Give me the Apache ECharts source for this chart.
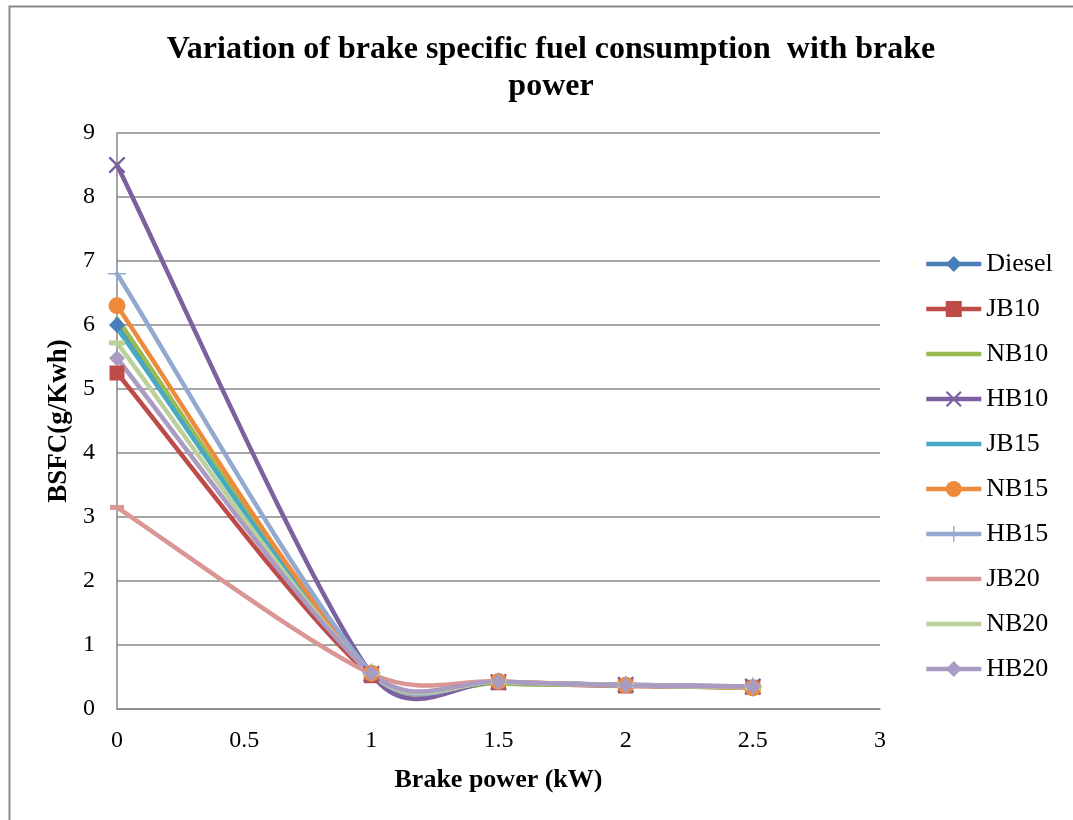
<!DOCTYPE html>
<html>
<head>
<meta charset="utf-8">
<script src="https://cdn.jsdelivr.net/npm/echarts@6/dist/echarts.min.js"></script>
<style>
  html, body { margin: 0; padding: 0; background: #fff; }
  #chart { width: 1073px; height: 820px; }
</style>
</head>
<body>
<div id="chart"></div>
<script>
// ---- Data ----
const brakePower = [0, 1, 1.5, 2, 2.5];
const xTickLabels = ['0', '0.5', '1', '1.5', '2', '2.5', '3'];
const yTickLabels = ['0', '1', '2', '3', '4', '5', '6', '7', '8', '9'];
const seriesNames = ['Diesel', 'JB10', 'NB10', 'HB10', 'JB15', 'NB15', 'HB15', 'JB20', 'NB20', 'HB20'];

const diesel = [6.0, 0.55, 0.42, 0.37, 0.34];
const jb10   = [5.25, 0.52, 0.41, 0.36, 0.34];
const nb10   = [6.1, 0.54, 0.40, 0.37, 0.33];
const hb10   = [8.5, 0.55, 0.42, 0.38, 0.35];
const jb15   = [5.95, 0.55, 0.42, 0.37, 0.34];
const nb15   = [6.3, 0.56, 0.43, 0.37, 0.33];
const hb15   = [6.8, 0.57, 0.43, 0.38, 0.35];
const jb20   = [3.15, 0.55, 0.43, 0.37, 0.35];
const nb20   = [5.72, 0.55, 0.42, 0.37, 0.34];
const hb20   = [5.48, 0.56, 0.43, 0.37, 0.35];
const seriesValues = [diesel, jb10, nb10, hb10, jb15, nb15, hb15, jb20, nb20, hb20];

// ---- Styles ----
const FONT = "'Liberation Serif', 'Times New Roman', serif";
const colors = ['#4A7EBB', '#BE4B48', '#98B954', '#7D60A0', '#46AAC5', '#EE8A3C', '#93A9CF', '#D99694', '#BBD09A', '#A99BC2'];
const X_PATH = 'path://M1,0 L5,4 L9,0 L10,1 L6,5 L10,9 L9,10 L5,6 L1,10 L0,9 L4,5 L0,1 Z';
const PLUS_PATH = 'path://M4.55,0 H5.45 V4.55 H10 V5.45 H5.45 V10 H4.55 V5.45 H0 V4.55 H4.55 Z';
const LINE_ICON = 'path://M0,0 H110 V9 H0 Z';
const symbols = [
  ['diamond', 16], ['rect', 15], ['none', 0], [X_PATH, 17], ['none', 0],
  ['circle', 17], [PLUS_PATH, 18], ['rect', [14, 5]], ['rect', [16, 5]], ['diamond', 16]
];
const plainLegend = [false, false, true, false, true, false, false, true, true, false];
const LW = 4.5;

function dist(a, b) { return Math.hypot(a[0] - b[0], a[1] - b[1]); }

function curveSeries(name, vals, color) {
  return {
    type: 'custom',
    name: name,
    z: 2,
    silent: true,
    clip: false,
    encode: { x: 0, y: 1 },
    data: brakePower.map((x, i) => [x, vals[i]]),
    renderItem: function (params, api) {
      const i = params.dataIndex;
      const n = brakePower.length;
      if (i >= n - 1) return null;
      const P = brakePower.map((x, j) => api.coord([x, vals[j]]));
      const k = 1 / 6;
      const p0 = P[Math.max(i - 1, 0)], p1 = P[i], p2 = P[i + 1], p3 = P[Math.min(i + 2, n - 1)];
      const d01 = dist(p0, p1), d12 = dist(p1, p2), d23 = dist(p2, p3);
      const s1 = d01 > 0 ? Math.min(1, Math.sqrt(2 * d12 / (d01 + d12))) : 1;
      const s2 = d23 > 0 ? Math.min(1, Math.sqrt(2 * d12 / (d12 + d23))) : 1;
      const cp1 = [p1[0] + (p2[0] - p0[0]) * k * s1, p1[1] + (p2[1] - p0[1]) * k * s1];
      const cp2 = [p2[0] - (p3[0] - p1[0]) * k * s2, p2[1] - (p3[1] - p1[1]) * k * s2];
      return {
        type: 'bezierCurve',
        shape: { x1: p1[0], y1: p1[1], x2: p2[0], y2: p2[1], cpx1: cp1[0], cpy1: cp1[1], cpx2: cp2[0], cpy2: cp2[1] },
        style: { fill: 'none', stroke: color, lineWidth: LW, lineCap: 'round' }
      };
    }
  };
}

const markerSeries = seriesNames.map((name, s) => ({
  type: 'line',
  name: name,
  z: 3,
  data: brakePower.map((x, i) => [x, seriesValues[s][i]]),
  symbol: symbols[s][0],
  symbolSize: symbols[s][1],
  showSymbol: symbols[s][0] !== 'none',
  color: colors[s],
  itemStyle: { color: colors[s] },
  lineStyle: { color: colors[s], width: LW, opacity: 0 },
  emphasis: { disabled: true }
}));

const curves = seriesNames.map((name, s) => curveSeries(name, seriesValues[s], colors[s]));

const legendData = seriesNames.map((name, s) => plainLegend[s] ? { name: name, icon: LINE_ICON } : { name: name });

const chart = echarts.init(document.getElementById('chart'), null, { renderer: 'canvas' });
chart.setOption({
  animation: false,
  backgroundColor: '#ffffff',
  textStyle: { fontFamily: FONT },
  title: {
    text: 'Variation of brake specific fuel consumption  with brake\npower',
    left: 546,
    top: 26,
    textAlign: 'center',
    textStyle: { fontFamily: FONT, fontSize: 32, fontWeight: 'bold', color: '#000', lineHeight: 37 }
  },
  graphic: [{
    type: 'rect',
    shape: { x: 9.5, y: 6.5, width: 1200, height: 1000 },
    style: { fill: 'none', stroke: '#8a8a8a', lineWidth: 2 },
    silent: true,
    z: 0
  }],
  grid: { left: 117, right: 193, top: 133, bottom: 111, containLabel: false },
  legend: {
    orient: 'vertical',
    left: 919,
    top: 246,
    itemWidth: 55,
    itemHeight: 20,
    itemGap: 19,
    data: legendData,
    symbolKeepAspect: true,
    lineStyle: { width: LW, opacity: 1 },
    textStyle: { fontFamily: FONT, fontSize: 26, color: '#000', lineHeight: 26 },
    selectedMode: false
  },
  xAxis: {
    type: 'value',
    min: 0, max: 3, interval: 0.5,
    name: 'Brake power (kW)',
    nameLocation: 'middle',
    nameGap: 58,
    nameTextStyle: { fontFamily: FONT, fontSize: 26, fontWeight: 'bold', color: '#000' },
    axisLine: { show: true, lineStyle: { color: '#878787', width: 1.5 } },
    axisTick: { show: false },
    splitLine: { show: false },
    axisLabel: {
      margin: 20,
      fontFamily: FONT, fontSize: 24, color: '#000',
      formatter: function (v) { return xTickLabels[Math.round(v / 0.5)]; }
    }
  },
  yAxis: {
    type: 'value',
    min: 0, max: 9, interval: 1,
    name: 'BSFC(g/Kwh)',
    nameLocation: 'middle',
    nameGap: 44,
    nameTextStyle: { fontFamily: FONT, fontSize: 27, fontWeight: 'bold', color: '#000' },
    axisLine: { show: true, lineStyle: { color: '#878787', width: 1.5 } },
    axisTick: { show: false },
    splitLine: { show: true, lineStyle: { color: '#878787', width: 1.5 } },
    axisLabel: {
      margin: 22,
      fontFamily: FONT, fontSize: 24, color: '#000',
      formatter: function (v) { return yTickLabels[Math.round(v)]; }
    }
  },
  series: markerSeries.concat(curves)
});
</script>
</body>
</html>
